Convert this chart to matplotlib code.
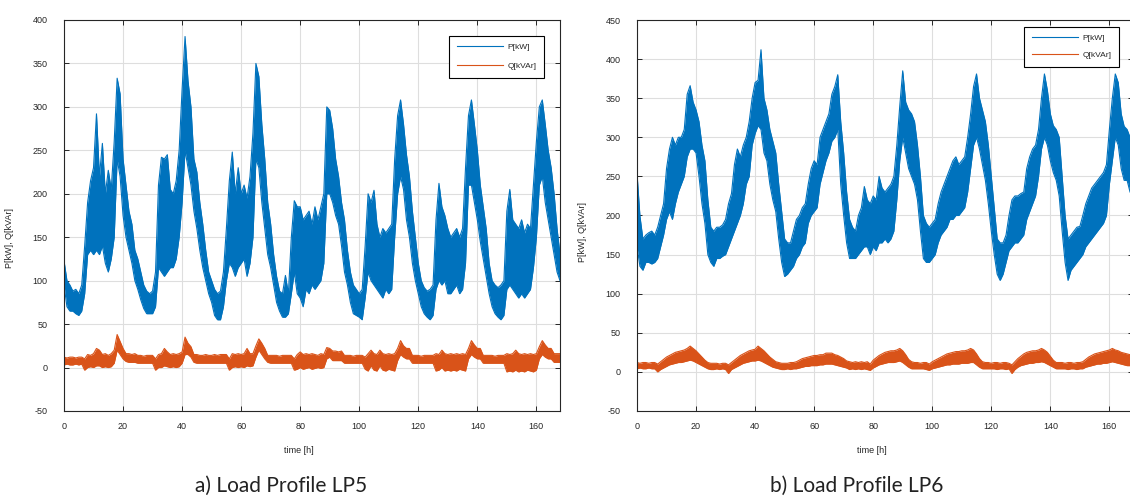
import matplotlib.pyplot as plt
import numpy as np

plt.rcParams["axes.unicode_minus"] = False

# hourly time axis (one week)
hours = np.arange(0, 169)

# LP5: lower / upper edge of the noisy band, read per hour
p5_lo = [95, 70, 65, 65, 62, 60, 65, 85, 130, 135, 130, 135,
         130, 140, 120, 110, 125, 150, 240, 220, 175, 150, 135, 120,
         100, 90, 78, 68, 62, 62, 62, 70, 115, 110, 105, 110,
         115, 115, 125, 150, 190, 250, 230, 210, 180, 160, 135, 115,
         100, 85, 75, 60, 55, 55, 70, 100, 120, 115, 105, 115,
         120, 125, 105, 120, 150, 240, 230, 190, 160, 130, 115, 95,
         75, 65, 58, 58, 62, 85, 110, 85, 80, 70, 90, 85,
         95, 90, 95, 100, 120, 200, 200, 190, 175, 165, 140, 110,
         95, 75, 62, 60, 58, 55, 80, 110, 100, 95, 90, 85,
         80, 90, 85, 90, 150, 200, 220, 205, 170, 150, 120, 100,
         85, 70, 62, 58, 55, 60, 90, 100, 95, 100, 85, 85,
         90, 95, 85, 90, 120, 210, 210, 190, 170, 145, 125, 105,
         85, 70, 62, 58, 55, 60, 90, 95, 90, 85, 80, 85,
         80, 85, 90, 115, 150, 210, 220, 190, 170, 150, 130, 110,
         100]
p5_hi = [123, 100, 95, 88, 90, 85, 95, 140, 190, 215, 230, 292,
         220, 258, 200, 227, 205, 260, 333, 315, 240, 210, 180, 165,
         135, 125, 110, 95, 88, 85, 88, 110, 210, 242, 240, 245,
         205, 200, 215, 250, 320, 381, 330, 300, 240, 225, 190, 165,
         135, 110, 100, 90, 85, 88, 110, 160, 215, 248, 200, 230,
         200, 210, 195, 220, 270, 350, 335, 280, 240, 190, 165, 130,
         105, 88, 85, 106, 85, 150, 192, 185, 185, 170, 175, 180,
         165, 185, 170, 185, 200, 300, 296, 275, 240, 220, 190, 170,
         135, 110, 95, 90, 85, 90, 140, 200, 190, 204, 165, 150,
         160, 155, 160, 165, 240, 290, 308, 280, 245, 220, 180, 150,
         120, 100, 92, 88, 90, 95, 170, 212, 185, 175, 160, 150,
         155, 160, 150, 160, 230, 290, 308, 280, 250, 210, 185, 160,
         120, 100, 95, 92, 95, 100, 180, 205, 170, 165, 160, 170,
         155, 165, 160, 210, 260, 300, 308, 280, 250, 230, 200, 160,
         130]
q5_lo = [3, 4, 3, 3, 4, 3, 4, -3, 0, 1, 0, 2,
         2, 0, 1, 0, 1, 5, 20, 15, 10, 7, 6, 6,
         6, 5, 5, 5, 5, 5, 5, -3, 0, 0, 2, 1,
         0, 1, 0, 1, 5, 15, 15, 12, 6, 5, 5, 5,
         5, 5, 5, 5, 5, 5, 5, 5, -3, 0, 1, 0,
         1, 0, 2, 1, 2, 12, 20, 15, 10, 6, 5, 5,
         5, 5, 5, 5, 5, 5, -3, -2, 0, -2, -1, 0,
         -2, -1, 0, -1, 0, 10, 12, 8, 8, 8, 8, 5,
         5, 5, 5, 5, 5, 5, -2, -4, 2, -3, -4, 2,
         -3, -4, -2, -3, -4, 8, 15, 12, 10, 10, 5, 5,
         5, 5, 5, 5, 5, 5, -4, -3, 0, -4, -3, -4,
         -3, -4, -2, -3, -4, 10, 15, 12, 10, 10, 5, 5,
         5, 5, 5, 5, 5, 5, -5, -4, -5, -3, -5, -4,
         -5, -3, -4, -5, -3, 10, 15, 12, 10, 10, 6, 6,
         6]
q5_hi = [12, 11, 12, 12, 11, 12, 12, 10, 15, 14, 16, 22,
         20, 15, 16, 14, 16, 20, 38, 30, 22, 16, 16, 15,
         16, 14, 14, 13, 14, 14, 14, 10, 15, 16, 22, 18,
         15, 16, 15, 16, 18, 35, 28, 24, 15, 15, 14, 14,
         15, 14, 14, 15, 14, 15, 15, 15, 10, 16, 15, 16,
         15, 16, 22, 16, 16, 25, 33, 28, 22, 14, 14, 14,
         14, 13, 14, 14, 14, 14, 10, 15, 18, 15, 16, 15,
         16, 15, 14, 16, 15, 23, 22, 19, 19, 18, 19, 14,
         14, 14, 13, 14, 14, 14, 12, 16, 20, 16, 15, 20,
         16, 15, 16, 15, 16, 22, 31, 25, 22, 22, 14, 14,
         14, 13, 14, 14, 14, 14, 16, 15, 20, 16, 15, 16,
         15, 16, 15, 16, 15, 22, 31, 26, 22, 22, 14, 14,
         14, 14, 13, 14, 14, 14, 16, 15, 16, 20, 16, 15,
         16, 15, 16, 15, 16, 24, 31, 26, 22, 22, 16, 16,
         16]

# LP6
p6_lo = [160, 135, 130, 140, 140, 138, 140, 145, 160, 175, 195, 205,
         195, 215, 230, 240, 250, 275, 285, 285, 280, 250, 215, 190,
         150, 140, 135, 145, 145, 148, 150, 160, 170, 180, 190, 200,
         215, 240, 250, 290, 305, 315, 310, 280, 270, 240, 220, 205,
         170, 140, 122, 125, 130, 135, 145, 150, 160, 165, 190, 200,
         205, 210, 240, 255, 270, 280, 295, 300, 310, 240, 200, 165,
         145, 145, 145, 150, 155, 160, 160, 150, 160, 155, 165, 165,
         170, 165, 170, 180, 220, 270, 300, 280, 260, 250, 240, 220,
         180, 145, 140, 140, 145, 150, 165, 175, 180, 185, 195, 195,
         200, 200, 205, 210, 230, 260, 290, 300, 285, 265, 245, 215,
         180, 150, 125, 117, 125, 140, 155, 160, 165, 165, 170, 175,
         195, 205, 215, 225, 250, 285, 300, 290, 270, 255, 245, 225,
         180, 140, 117, 130, 135, 140, 145, 150, 160, 165, 170, 175,
         180, 185, 190, 200, 240, 270, 300, 290, 260, 245, 245, 230,
         225]
p6_hi = [254, 199, 170, 175, 178, 180, 175, 185, 200, 215, 260, 285,
         300, 290, 300, 300, 310, 355, 366, 345, 335, 320, 290, 270,
         220, 185, 180, 185, 185, 188, 195, 215, 228, 265, 285, 275,
         290, 300, 320, 350, 370, 373, 412, 350, 335, 310, 295, 280,
         240, 205, 170, 165, 165, 180, 195, 200, 210, 215, 240, 260,
         270, 265, 300, 310, 320, 330, 355, 365, 380, 320, 280, 230,
         195, 185, 180, 200, 210, 237, 220, 215, 225, 220, 250, 235,
         230, 235, 240, 250, 290, 340, 385, 345, 335, 330, 320, 290,
         250, 200, 190, 185, 190, 195, 215, 230, 240, 250, 260, 270,
         275, 265, 270, 275, 300, 330, 365, 381, 350, 335, 320, 290,
         250, 210, 170, 165, 165, 175, 200, 220, 225, 225, 228, 230,
         260, 275, 285, 290, 310, 350, 381, 360, 330, 315, 310, 300,
         250, 200, 170, 175, 180, 185, 186, 200, 215, 225, 235, 240,
         245, 250, 255, 265, 310, 350, 381, 370, 330, 314, 310, 300,
         295]
q6_lo = [4, 5, 4, 4, 5, 4, 4, 0, 3, 5, 7, 9,
         10, 11, 12, 12, 13, 14, 15, 14, 12, 10, 8, 6,
         4, 3, 3, 4, 3, 4, 3, -2, 3, 5, 7, 9,
         11, 12, 13, 14, 14, 15, 14, 12, 10, 8, 6, 5,
         4, 3, 3, 4, 3, 4, 4, 5, 6, 7, 7, 8,
         8, 8, 9, 9, 10, 10, 10, 9, 8, 7, 6, 5,
         3, 4, 3, 4, 3, 4, 3, 2, 5, 7, 9, 10,
         11, 12, 12, 12, 13, 14, 12, 9, 6, 4, 4, 4,
         4, 4, 3, 2, 4, 5, 6, 7, 8, 9, 9, 10,
         10, 10, 11, 11, 11, 12, 12, 9, 6, 4, 4, 4,
         4, 4, 3, 4, 4, 3, 4, -2, 3, 6, 8, 9,
         10, 11, 11, 12, 12, 13, 12, 10, 8, 6, 4, 4,
         4, 4, 3, 4, 4, 3, 4, 4, 6, 7, 8, 9,
         10, 10, 11, 11, 12, 13, 12, 11, 10, 9, 8, 8,
         8]
q6_hi = [12, 11, 12, 12, 11, 12, 12, 10, 13, 16, 19, 21,
         23, 25, 26, 27, 28, 30, 33, 30, 27, 23, 19, 15,
         12, 11, 11, 11, 10, 11, 11, 9, 12, 15, 18, 21,
         23, 25, 27, 28, 29, 33, 30, 27, 23, 19, 16, 13,
         12, 11, 11, 11, 12, 12, 13, 15, 17, 18, 19, 20,
         21, 21, 22, 22, 24, 24, 24, 22, 21, 19, 17, 14,
         13, 12, 13, 12, 13, 12, 13, 10, 15, 18, 21, 23,
         25, 26, 27, 27, 28, 30, 27, 22, 16, 13, 12, 12,
         11, 12, 12, 10, 13, 15, 17, 19, 21, 23, 24, 25,
         26, 26, 27, 27, 28, 30, 28, 23, 17, 13, 12, 12,
         11, 12, 12, 11, 12, 12, 11, 9, 13, 17, 20, 23,
         25, 26, 27, 27, 28, 30, 28, 25, 20, 15, 12, 12,
         12, 11, 12, 12, 11, 12, 12, 13, 16, 19, 21, 23,
         24, 25, 26, 27, 28, 30, 28, 27, 25, 24, 23, 22,
         20]

BLUE = "#0072BD"
ORANGE = "#D95319"
DARK = "#262626"
TICKFONT = ["Liberation Sans Narrow", "Liberation Sans", "DejaVu Sans"]


def band(ax, lo, hi, color, label):
    # the noisy signal is drawn as the band between its lower and upper edge
    ax.fill_between(hours, lo, hi, color=color, lw=0)
    ax.plot(hours, lo, color=color, lw=0.8)
    ax.plot(hours, hi, color=color, lw=0.8, label=label)


def style(ax, ymax, leg_anchor, label_y, leg_spacing):
    ax.set_xlim(0, 168)
    ax.set_ylim(-50, ymax)
    ax.set_xticks(np.arange(0, 161, 20))
    ax.set_yticks(np.arange(-50, ymax + 1, 50))
    ax.grid(True, color="#dedede", lw=0.8)
    ax.set_axisbelow(True)
    ax.tick_params(direction="in", length=3.5, width=0.7, colors=DARK,
                   top=True, right=True, labelsize=6.5)
    ax.tick_params(axis="y", pad=12)
    ax.tick_params(axis="x", pad=8)
    for lab in ax.get_xticklabels() + ax.get_yticklabels():
        lab.set_family(TICKFONT)
    for sp in ax.spines.values():
        sp.set_color(DARK)
        sp.set_linewidth(0.8)
    ax.set_xlabel("time [h]", fontsize=6.5, color=DARK, family=TICKFONT)
    ax.set_ylabel("P[kW], Q[kVAr]", fontsize=6.5, color=DARK, family=TICKFONT)
    ax.xaxis.set_label_coords(0.474, -0.09)
    ax.yaxis.set_label_coords(-0.10, label_y)
    leg = ax.legend(loc="upper right", bbox_to_anchor=leg_anchor,
                    handlelength=5.5, handletextpad=0.6, labelspacing=leg_spacing,
                    borderpad=0.9, borderaxespad=0, fancybox=False,
                    edgecolor="black", framealpha=1,
                    prop={"family": TICKFONT, "size": 6})
    leg.get_frame().set_linewidth(0.8)
    for txt in leg.get_texts():
        txt.set_color(DARK)


fig = plt.figure(figsize=(11.3, 4.99), dpi=100)
ax1 = fig.add_axes([64 / 1130, 88 / 499, 496 / 1130, 391 / 499])
ax2 = fig.add_axes([637 / 1130, 88 / 499, 496 / 1130, 391 / 499])

for ax, plo, phi, qlo, qhi in [(ax1, p5_lo, p5_hi, q5_lo, q5_hi),
                               (ax2, p6_lo, p6_hi, q6_lo, q6_hi)]:
    band(ax, plo, phi, BLUE, "P[kW]")
    band(ax, qlo, qhi, ORANGE, "Q[kVAr]")

style(ax1, 400, (0.968, 0.959), 0.442, 1.3)
style(ax2, 450, (0.972, 0.982), 0.458, 1.1)

fig.text(281 / 1130, 1 - 486 / 499, "a) Load Profile LP5", ha="center",
         va="center", fontsize=15, family=["Lato", "DejaVu Sans"], color="#222222")
fig.text(857 / 1130, 1 - 486 / 499, "b) Load Profile LP6", ha="center",
         va="center", fontsize=15, family=["Lato", "DejaVu Sans"], color="#222222")

fig.savefig("out.png", dpi=100)
